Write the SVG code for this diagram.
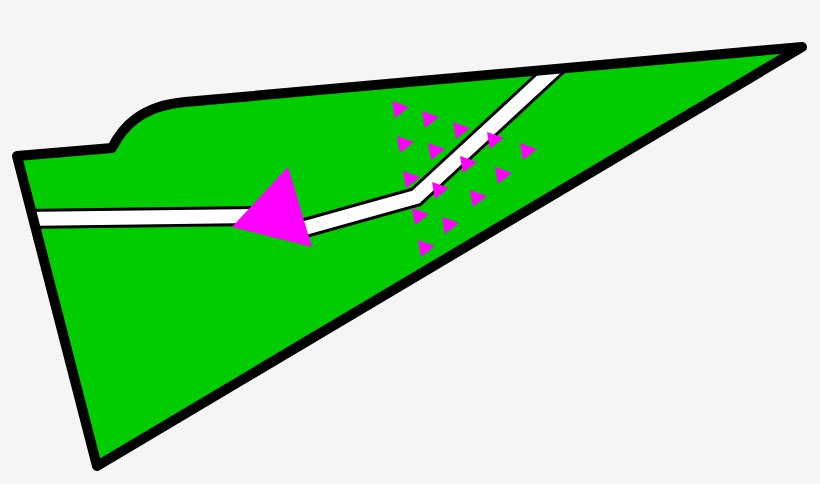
<svg xmlns="http://www.w3.org/2000/svg" width="820" height="484" viewBox="0 0 820 484">
<defs>
<style>
.land{fill:#00cc00;}
.edge{fill:none;stroke:#000;stroke-width:10;stroke-linejoin:round;}
.road-o{fill:none;stroke:#000;stroke-width:20;}
.road-i{fill:none;stroke:#fff;stroke-width:14;}
.mg{fill:#ff00ff;}
</style>
<path id="tri" d="M0,0 L17,6 L3,17 Z"/>
<clipPath id="clip"><path d="M17,156 L112,148 C122,128 140,106 185,102 L802,47 L97,466 Z"/></clipPath>
</defs>
<rect width="820" height="484" fill="#f5f5f5"/>
<g id="land">
<path class="land" d="M17,156 L112,148 C122,128 140,106 185,102 L802,47 L97,466 Z"/>
</g>
<g id="road" clip-path="url(#clip)">
<path class="road-o" d="M20,219 L262,216 L298,230 L416,197 L560,64"/>
<path class="road-i" d="M20,219 L262,216 L298,230 L416,197 L560,64"/>
</g>
<g id="outline">
<path class="edge" d="M17,156 L112,148 C122,128 140,106 185,102 L802,47 L97,466 Z"/>
</g>
<g id="arrow">
<path class="mg" d="M288,167 L232,227 L312,247 Z"/>
</g>
<g id="marks" class="mg">
<use href="#tri" x="392" y="101"/>
<use href="#tri" x="422" y="111"/>
<use href="#tri" x="453" y="122"/>
<use href="#tri" x="487" y="132"/>
<use href="#tri" x="520" y="143"/>
<use href="#tri" x="397" y="136"/>
<use href="#tri" x="428" y="143"/>
<use href="#tri" x="460" y="156"/>
<use href="#tri" x="495" y="167"/>
<use href="#tri" x="403" y="171"/>
<use href="#tri" x="432" y="182"/>
<use href="#tri" x="470" y="190"/>
<use href="#tri" x="412" y="208"/>
<use href="#tri" x="442" y="217"/>
<use href="#tri" x="418" y="240"/>
</g>
</svg>
